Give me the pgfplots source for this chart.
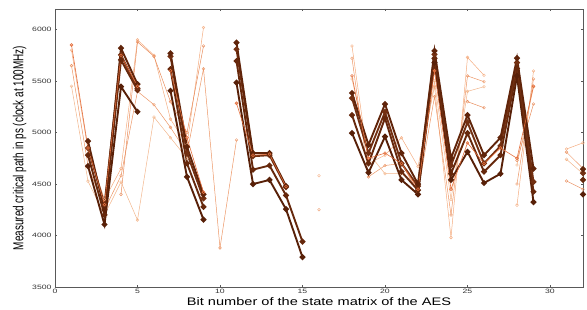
\documentclass[border=0pt]{standalone}
\usepackage{pgfplots}
\pgfplotsset{compat=1.18}
\usepackage{pgfplotstable}
\usepackage{fontspec}
\setmainfont{Liberation Sans}
\newfontfamily\tickfont[FakeStretch=1.38]{Liberation Sans}
\newfontfamily\xlabfont[FakeStretch=1.33]{Liberation Sans}

\definecolor{dA}{RGB}{88,32,8}
\definecolor{dB}{RGB}{102,40,12}
\definecolor{dC}{RGB}{115,48,18}
\definecolor{dD}{RGB}{96,36,10}
\definecolor{mO}{RGB}{228,112,62}
\definecolor{lA}{RGB}{244,172,128}
\definecolor{lB}{RGB}{236,150,102}
\definecolor{lC}{RGB}{242,182,140}
\definecolor{lD}{RGB}{232,140,92}

\pgfplotstableread{
x  D1   D2   D3   D4   M    L1   L2   L3   L4
1  nan  nan  nan  nan  5850 5800 5650 5450 nan
2  4674 4780 4850 4917 4850 4830 4680 4528 nan
3  4107 4200 4300 4250 4300 4350 4250 4200 nan
4  5446 5705 5754 5819 5750 4650 4580 4520 4400
5  5202 5413 5430 5470 5450 5900 5400 4150 5880
6  nan  nan  nan  nan  nan  5750 5270 5150 5740
7  5406 5617 5740 5770 5600 5130 5050 4950 5300
8  4570 4700 4800 4860 4950 4880 4800 4750 5000
9  4155 4278 4360 4400 4420 6020 5620 nan  5840
10 nan  nan  nan  nan  nan  nan  3880 nan  nan
11 5484 5695 5809 5874 5284 nan  4927 nan  nan
12 4500 4640 4770 4800 4780 nan  nan  nan  nan
13 4540 4680 4780 4800 4790 nan  nan  nan  nan
14 4256 4390 4470 4480 4475 nan  nan  nan  nan
15 3790 3940 nan  nan  nan  nan  nan  nan  nan
16 nan  nan  nan  nan  nan  4580 4250 nan  nan
17 nan  nan  nan  nan  nan  nan  nan  nan  nan
18 4995 5170 5335 5384 5550 5840 5722 5520 nan
19 4610 4700 4800 4880 4750 4700 4570 4800 nan
20 4960 5140 5200 5277 4800 4780 4680 4600 nan
21 4540 4620 4700 4800 4700 4950 4700 4600 nan
22 4400 4440 4480 4500 4450 4670 4420 4500 nan
23 5680 5720 5760 5793 5600 5450 5350 5500 nan
24 4540 4600 4680 4750 4450 3980 4200 4350 nan
25 4813 4995 5100 5170 4900 5730 5550 5400 5300
26 4510 4620 4700 4780 4700 5556 5494 5445 5241
27 4600 4780 4870 4950 4850 nan  nan  nan  nan
28 5550 5620 5680 5722 4750 4295 4500 4685 4730
29 4325 4425 4520 4650 5450 5598 5520 5442 5277
30 nan  nan  nan  nan  nan  nan  nan  nan  nan
31 nan  nan  nan  nan  nan  4840 4810 4740 4530
32 4400 4540 4605 4645 nan  4900 4650 4600 4450
}\data

\begin{document}
\begin{tikzpicture}
\begin{axis}[
  at={(0,0)}, anchor=south west,
  scale only axis, width=528bp, height=278bp,
  xmin=0, xmax=32, ymin=3500, ymax=6200,
  xtick={0,5,...,30}, ytick={3500,4000,...,6000},
  unbounded coords=jump,
  tick align=inside, major tick length=2.5pt,
  xtick pos=both, ytick pos=both,
  axis line style={black!65, line width=0.6pt},
  tick style={black!65, line width=0.5pt},
  ticklabel style={font=\tickfont\fontsize{6.3}{7}\selectfont, text=black!80},
  xticklabel style={yshift=1pt},
  /pgf/number format/assume math mode=true,
  /pgf/number format/set thousands separator={},
  xlabel={\xlabfont Bit number of the state matrix of the AES},
  ylabel={\scalebox{1}[1.45]{Measured critical path in ps (clock at 100MHz)}},
  xlabel style={font=\fontsize{11}{12}\selectfont, yshift=3.5pt},
  ylabel style={font=\fontsize{10}{11}\selectfont, yshift=-1pt},
  light/.style={line width=0.5pt, mark=o, mark size=1.4pt, mark options={line width=0.4pt}},
  dark/.style={line width=1.9pt, mark=*, mark size=1.9pt},
]
\addplot[light, color=lA] table[x=x, y=L1] {\data};
\addplot[light, color=lB] table[x=x, y=L2] {\data};
\addplot[light, color=lC] table[x=x, y=L3] {\data};
\addplot[light, color=lD] table[x=x, y=L4] {\data};
\addplot[dark, color=dA] table[x=x, y=D1] {\data};
\addplot[dark, color=dB] table[x=x, y=D2] {\data};
\addplot[dark, color=dC] table[x=x, y=D3] {\data};
\addplot[dark, color=dD] table[x=x, y=D4] {\data};
\addplot[line width=0.6pt, mark=o, mark size=1.4pt, color=mO] table[x=x, y=M] {\data};
\end{axis}
\path[use as bounding box] (-55bp,-23bp) rectangle (532bp,287bp);
\end{tikzpicture}
\end{document}
